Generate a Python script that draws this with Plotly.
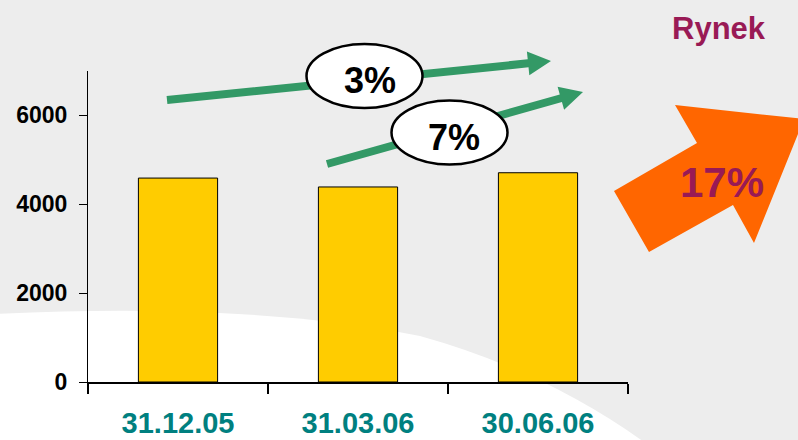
import plotly.graph_objects as go

# ---- data ----
categories = ["31.12.05", "31.03.06", "30.06.06"]
values = [4590, 4390, 4710]
y_ticks = [0, 2000, 4000, 6000]
growth_labels = ["3%", "7%"]
market_label = "Rynek"
market_growth = "17%"

# ---- layout geometry (pixels) ----
W, H = 798, 440
L, R, T, B = 88, 170, 71, 58
PW, PH = W - L - R, H - T - B


def P(x, y):
    return (x - L) / PW, (H - B - y) / PH


def path(points, close=True):
    s = ""
    for i, (x, y) in enumerate(points):
        px, py = P(x, y)
        s += ("M" if i == 0 else "L") + f"{px:.5f},{py:.5f} "
    return s + ("Z" if close else "")


def arrow_points(sx, sy, tx, ty, shaft=8, head_len=23, head_w=24):
    import math
    dx, dy = tx - sx, ty - sy
    d = math.hypot(dx, dy)
    ux, uy = dx / d, dy / d
    nx, ny = -uy, ux
    bx, by = tx - ux * head_len, ty - uy * head_len
    hs, hh = shaft / 2, head_w / 2
    return [
        (sx + nx * hs, sy + ny * hs),
        (bx + nx * hs, by + ny * hs),
        (bx + nx * hh, by + ny * hh),
        (tx, ty),
        (bx - nx * hh, by - ny * hh),
        (bx - nx * hs, by - ny * hs),
        (sx - nx * hs, sy - ny * hs),
    ]


FONT = "Arial, Liberation Sans, sans-serif"
GREEN = "#339966"
MAROON = "#991A55"
BG = "#EDEDED"

fig = go.Figure(
    go.Bar(
        x=categories,
        y=values,
        width=0.44,
        marker=dict(color="#FFCC00", line=dict(color="black", width=1)),
        hoverinfo="skip",
    )
)

shapes = []
# white swoosh in the background
p0 = P(-5, 314)
c1 = P(250, 302)
p1 = P(420, 336)
c2 = P(550, 372)
p2 = P(655, 450)
p3 = P(-5, 450)
swoosh = (f"M{p0[0]:.5f},{p0[1]:.5f} Q{c1[0]:.5f},{c1[1]:.5f} {p1[0]:.5f},{p1[1]:.5f} "
          f"Q{c2[0]:.5f},{c2[1]:.5f} {p2[0]:.5f},{p2[1]:.5f} L{p3[0]:.5f},{p3[1]:.5f} Z")
shapes.append(dict(type="path", xref="paper", yref="paper", path=swoosh,
                   fillcolor="white", line=dict(width=0), layer="below"))

# green arrows
for (sx, sy, tx, ty) in [(167, 100, 551, 61), (327, 164, 583, 92)]:
    shapes.append(dict(type="path", xref="paper", yref="paper",
                       path=path(arrow_points(sx, sy, tx, ty)),
                       fillcolor=GREEN, line=dict(width=0), layer="above"))

# ellipses
for (cx, cy) in [(364.5, 76), (449.5, 132.5)]:
    x0, y0 = P(cx - 58, cy + 32)
    x1, y1 = P(cx + 58, cy - 32)
    shapes.append(dict(type="circle", xref="paper", yref="paper",
                       x0=x0, y0=y0, x1=x1, y1=y1,
                       fillcolor="white", line=dict(color="black", width=2.5),
                       layer="above"))

# orange market arrow
orange = [(614, 191), (697, 143), (675, 105), (804, 119), (754, 243), (733, 205), (649, 252)]
shapes.append(dict(type="path", xref="paper", yref="paper", path=path(orange),
                   fillcolor="#FF6600", line=dict(width=0), layer="above"))

annotations = []
for txt, (cx, cy) in zip(growth_labels, [(369.5, 80), (454, 137)]):
    x, y = P(cx, cy)
    annotations.append(dict(text=f"<b>{txt}</b>", x=x, y=y, xref="paper", yref="paper",
                            xanchor="center", yanchor="middle", showarrow=False,
                            font=dict(family=FONT, size=36, color="black")))
x, y = P(722, 182)
annotations.append(dict(text=f"<b>{market_growth}</b>", x=x, y=y, xref="paper", yref="paper",
                        xanchor="center", yanchor="middle", showarrow=False,
                        font=dict(family=FONT, size=42, color=MAROON)))
x, y = P(719, 28)
annotations.append(dict(text=f"<b>{market_label}</b>", x=x, y=y, xref="paper", yref="paper",
                        xanchor="center", yanchor="middle", showarrow=False,
                        font=dict(family=FONT, size=31, color=MAROON)))

fig.update_layout(
    width=W, height=H,
    margin=dict(l=L, r=R, t=T, b=B, autoexpand=False),
    paper_bgcolor=BG,
    plot_bgcolor="rgba(0,0,0,0)",
    showlegend=False,
    shapes=shapes,
    annotations=annotations,
    xaxis=dict(
        type="category", range=[-0.5, 2.5], tickson="boundaries",
        ticks="outside", ticklen=10, tickwidth=1.5, tickcolor="black",
        showline=True, linecolor="black", linewidth=1.5, showgrid=False,
        tickfont=dict(family=FONT, size=29, color="#008080", weight="bold"),
        ticklabelstandoff=14, automargin=False,
    ),
    yaxis=dict(
        range=[0, 7000], tickvals=y_ticks,
        ticks="outside", ticklen=8, tickwidth=1, tickcolor="black",
        showline=True, linecolor="black", linewidth=1, showgrid=False, zeroline=False,
        tickfont=dict(family=FONT, size=23, color="black", weight="bold"),
        ticklabelstandoff=7, automargin=False,
    ),
)

fig.write_html(
    "out.html",
    config={"displayModeBar": False},
    post_script=(f"document.documentElement.style.background='{BG}';"
                 f"document.body.style.background='{BG}';"
                 "document.body.style.margin='0';document.body.style.overflow='hidden';"),
)
